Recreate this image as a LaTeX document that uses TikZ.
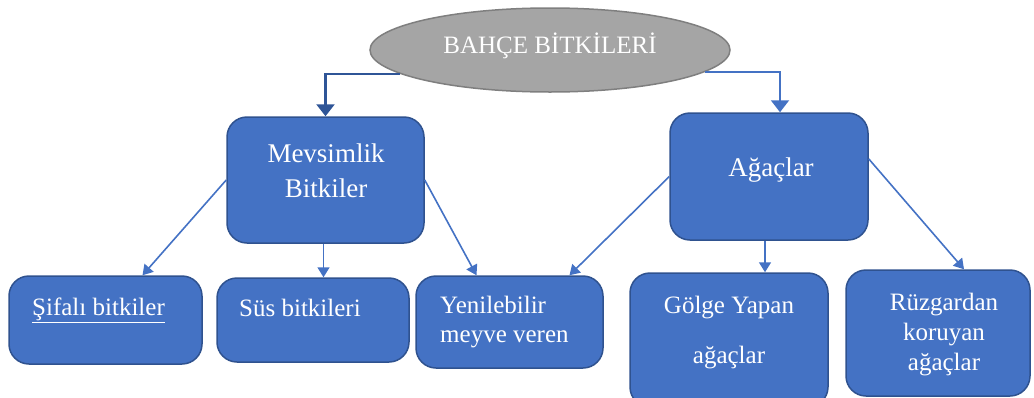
\documentclass[tikz,border=0pt]{standalone}
\usepackage{fontspec}
\setmainfont{Liberation Serif}
\usetikzlibrary{shapes.geometric,arrows.meta}
\definecolor{boxblue}{HTML}{4472C4}
\definecolor{boxedge}{HTML}{2F528F}
\definecolor{darkline}{HTML}{2F5597}
\definecolor{ovalgray}{HTML}{A5A5A5}
\definecolor{ovaledge}{HTML}{7F7F7F}
\tikzset{
  box/.style={draw=boxedge, fill=boxblue, line width=1.5pt, rounded corners=20pt, inner sep=0pt},
  txt/.style={text=white, font=\fontsize{25}{30}\selectfont, inner sep=0pt, align=center},
  link/.style={draw=boxblue, line width=1.6pt, -{Triangle[width=12pt,length=10pt]}},
  toplink/.style={line width=2.5pt, -{Triangle[width=18pt,length=12pt]}},
}
\begin{document}
\begin{tikzpicture}[x=1pt,y=-1pt]
    \useasboundingbox (0,0) rectangle (1034,397);
    % Title oval
    \node[ellipse, draw=ovaledge, fill=ovalgray, line width=1.5pt, minimum width=360pt, minimum height=84pt, inner sep=0pt] (top) at (550,50) {};
    \node[txt, anchor=base] (toptxt) at (550,53) {BAHÇE BİTKİLERİ};
    % Second level
    \node[box, minimum width=197pt, minimum height=126pt] (mev) at (325.5,180) {};
    \node[box, minimum width=198pt, minimum height=127pt] (aga) at (769,176.5) {};
    \node[txt, anchor=base, font=\fontsize{27}{35}\selectfont] (mevtxt) at (326,197) {Mevsimlik\\Bitkiler};
    \node[txt, anchor=base, font=\fontsize{27}{35}\selectfont] (agatxt) at (771,176) {Ağaçlar};
    % Third level
    \node[box, minimum width=193pt, minimum height=88pt] (sif) at (105.5,320) {};
    \node[box, minimum width=192pt, minimum height=84pt] (sus) at (313,320) {};
    \node[box, minimum width=187pt, minimum height=92pt] (yen) at (509.5,322) {};
    \node[box, minimum width=198pt, minimum height=134pt] (gol) at (729,340) {};
    \node[box, minimum width=184pt, minimum height=126pt] (ruz) at (938,333) {};
    \node[txt, anchor=base west] (siftxt) at (32,315) {\underline{Şifalı bitkiler}};
    \node[txt, anchor=base west] (sustxt) at (239,316) {Süs bitkileri};
    \node[txt, anchor=base west, align=left, font=\fontsize{25}{29}\selectfont] (yentxt) at (440,342) {Yenilebilir\\meyve veren};
    \node[txt, anchor=base, font=\fontsize{25}{50}\selectfont] (goltxt) at (729,363) {Gölge Yapan\\ağaçlar};
    \node[txt, anchor=base, font=\fontsize{25}{30}\selectfont] (ruztxt) at (944,370) {Rüzgardan\\koruyan\\ağaçlar};
    % Connectors from the oval
    \draw[toplink, darkline] (top.189) -| (mev.north);
    \draw[toplink, boxblue, line width=2pt] (top.-8) -| ([xshift=11pt]aga.north);
    % Connectors to the third level
    \draw[link] (mev.west) -- ([xshift=37pt]sif.north);
    \draw[link] ([xshift=-2pt]mev.south) -- ([xshift=-2pt]mev.south |- sus.north);
    \draw[link] (mev.east) -- ([xshift=-33pt]yen.north);
    \draw[link] (aga.west) -- ([xshift=60pt]yen.north);
    \draw[link] ([xshift=-4pt]aga.south) -- ([xshift=-4pt]aga.south |- gol.north);
    \draw[link] (aga.10) -- ([xshift=26pt]ruz.north);
\end{tikzpicture}
\end{document}
